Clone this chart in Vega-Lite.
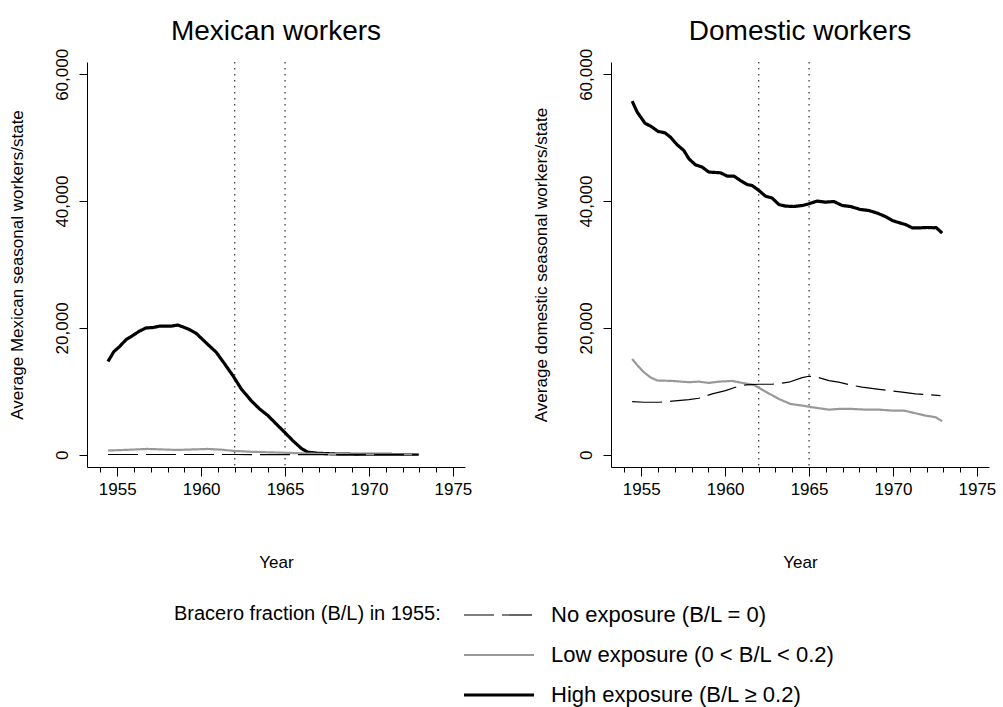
{
  "$schema": "https://vega.github.io/schema/vega-lite/v6.json",
  "padding": {"left": 8, "top": 18, "right": 5, "bottom": 5},
  "background": "white",
  "datasets": {
    "events": [{"year": 1962}, {"year": 1965}],
    "series": [
      {"panel": "Mexican", "exposure": "High", "year": 1954.45, "value": 14700},
      {"panel": "Mexican", "exposure": "High", "year": 1954.8, "value": 16250},
      {"panel": "Mexican", "exposure": "High", "year": 1955.14, "value": 17050},
      {"panel": "Mexican", "exposure": "High", "year": 1955.53, "value": 18150},
      {"panel": "Mexican", "exposure": "High", "year": 1955.93, "value": 18800},
      {"panel": "Mexican", "exposure": "High", "year": 1956.33, "value": 19500},
      {"panel": "Mexican", "exposure": "High", "year": 1956.73, "value": 20000},
      {"panel": "Mexican", "exposure": "High", "year": 1957.12, "value": 20050},
      {"panel": "Mexican", "exposure": "High", "year": 1957.52, "value": 20270},
      {"panel": "Mexican", "exposure": "High", "year": 1958.22, "value": 20270},
      {"panel": "Mexican", "exposure": "High", "year": 1958.61, "value": 20450},
      {"panel": "Mexican", "exposure": "High", "year": 1959.21, "value": 19850},
      {"panel": "Mexican", "exposure": "High", "year": 1959.7, "value": 19150},
      {"panel": "Mexican", "exposure": "High", "year": 1960.3, "value": 17630},
      {"panel": "Mexican", "exposure": "High", "year": 1960.9, "value": 16150},
      {"panel": "Mexican", "exposure": "High", "year": 1961.4, "value": 14320},
      {"panel": "Mexican", "exposure": "High", "year": 1961.89, "value": 12470},
      {"panel": "Mexican", "exposure": "High", "year": 1962.39, "value": 10370},
      {"panel": "Mexican", "exposure": "High", "year": 1962.98, "value": 8520},
      {"panel": "Mexican", "exposure": "High", "year": 1963.48, "value": 7210},
      {"panel": "Mexican", "exposure": "High", "year": 1963.98, "value": 6160},
      {"panel": "Mexican", "exposure": "High", "year": 1964.47, "value": 4850},
      {"panel": "Mexican", "exposure": "High", "year": 1964.97, "value": 3540},
      {"panel": "Mexican", "exposure": "High", "year": 1965.46, "value": 2210},
      {"panel": "Mexican", "exposure": "High", "year": 1965.96, "value": 1010},
      {"panel": "Mexican", "exposure": "High", "year": 1966.36, "value": 380},
      {"panel": "Mexican", "exposure": "High", "year": 1966.95, "value": 220},
      {"panel": "Mexican", "exposure": "High", "year": 1968.0, "value": 100},
      {"panel": "Mexican", "exposure": "High", "year": 1969.0, "value": 60},
      {"panel": "Mexican", "exposure": "High", "year": 1970.0, "value": 40},
      {"panel": "Mexican", "exposure": "High", "year": 1971.0, "value": 30},
      {"panel": "Mexican", "exposure": "High", "year": 1972.0, "value": 20},
      {"panel": "Mexican", "exposure": "High", "year": 1972.95, "value": 20},
      {"panel": "Mexican", "exposure": "Low", "year": 1954.45, "value": 650},
      {"panel": "Mexican", "exposure": "Low", "year": 1955.5, "value": 750},
      {"panel": "Mexican", "exposure": "Low", "year": 1956.8, "value": 900},
      {"panel": "Mexican", "exposure": "Low", "year": 1957.7, "value": 820},
      {"panel": "Mexican", "exposure": "Low", "year": 1958.6, "value": 740},
      {"panel": "Mexican", "exposure": "Low", "year": 1959.5, "value": 820},
      {"panel": "Mexican", "exposure": "Low", "year": 1960.4, "value": 900},
      {"panel": "Mexican", "exposure": "Low", "year": 1961.2, "value": 780},
      {"panel": "Mexican", "exposure": "Low", "year": 1962.0, "value": 580},
      {"panel": "Mexican", "exposure": "Low", "year": 1963.0, "value": 450},
      {"panel": "Mexican", "exposure": "Low", "year": 1964.0, "value": 370},
      {"panel": "Mexican", "exposure": "Low", "year": 1965.0, "value": 300},
      {"panel": "Mexican", "exposure": "Low", "year": 1966.0, "value": 200},
      {"panel": "Mexican", "exposure": "Low", "year": 1966.5, "value": 160},
      {"panel": "Mexican", "exposure": "Low", "year": 1967.5, "value": 100},
      {"panel": "Mexican", "exposure": "Low", "year": 1968.5, "value": 70},
      {"panel": "Mexican", "exposure": "Low", "year": 1970.0, "value": 50},
      {"panel": "Mexican", "exposure": "Low", "year": 1972.95, "value": 40},
      {"panel": "Mexican", "exposure": "No", "year": 1954.45, "value": 20},
      {"panel": "Mexican", "exposure": "No", "year": 1958.0, "value": 20},
      {"panel": "Mexican", "exposure": "No", "year": 1962.0, "value": 20},
      {"panel": "Mexican", "exposure": "No", "year": 1966.0, "value": 10},
      {"panel": "Mexican", "exposure": "No", "year": 1972.95, "value": 0},
      {"panel": "Domestic", "exposure": "High", "year": 1954.46, "value": 55790},
      {"panel": "Domestic", "exposure": "High", "year": 1954.76, "value": 54050},
      {"panel": "Domestic", "exposure": "High", "year": 1955.22, "value": 52310},
      {"panel": "Domestic", "exposure": "High", "year": 1955.65, "value": 51680},
      {"panel": "Domestic", "exposure": "High", "year": 1956.01, "value": 50990},
      {"panel": "Domestic", "exposure": "High", "year": 1956.41, "value": 50780},
      {"panel": "Domestic", "exposure": "High", "year": 1956.74, "value": 50100},
      {"panel": "Domestic", "exposure": "High", "year": 1957.14, "value": 48890},
      {"panel": "Domestic", "exposure": "High", "year": 1957.54, "value": 47990},
      {"panel": "Domestic", "exposure": "High", "year": 1957.84, "value": 46680},
      {"panel": "Domestic", "exposure": "High", "year": 1958.23, "value": 45730},
      {"panel": "Domestic", "exposure": "High", "year": 1958.63, "value": 45370},
      {"panel": "Domestic", "exposure": "High", "year": 1959.03, "value": 44580},
      {"panel": "Domestic", "exposure": "High", "year": 1959.72, "value": 44470},
      {"panel": "Domestic", "exposure": "High", "year": 1960.12, "value": 43950},
      {"panel": "Domestic", "exposure": "High", "year": 1960.52, "value": 43950},
      {"panel": "Domestic", "exposure": "High", "year": 1960.91, "value": 43250},
      {"panel": "Domestic", "exposure": "High", "year": 1961.31, "value": 42620},
      {"panel": "Domestic", "exposure": "High", "year": 1961.61, "value": 42460},
      {"panel": "Domestic", "exposure": "High", "year": 1962.01, "value": 41680},
      {"panel": "Domestic", "exposure": "High", "year": 1962.4, "value": 40790},
      {"panel": "Domestic", "exposure": "High", "year": 1962.8, "value": 40480},
      {"panel": "Domestic", "exposure": "High", "year": 1963.2, "value": 39470},
      {"panel": "Domestic", "exposure": "High", "year": 1963.59, "value": 39210},
      {"panel": "Domestic", "exposure": "High", "year": 1964.09, "value": 39150},
      {"panel": "Domestic", "exposure": "High", "year": 1964.59, "value": 39310},
      {"panel": "Domestic", "exposure": "High", "year": 1964.99, "value": 39580},
      {"panel": "Domestic", "exposure": "High", "year": 1965.48, "value": 40000},
      {"panel": "Domestic", "exposure": "High", "year": 1965.98, "value": 39840},
      {"panel": "Domestic", "exposure": "High", "year": 1966.48, "value": 39940},
      {"panel": "Domestic", "exposure": "High", "year": 1966.97, "value": 39310},
      {"panel": "Domestic", "exposure": "High", "year": 1967.47, "value": 39150},
      {"panel": "Domestic", "exposure": "High", "year": 1968.06, "value": 38680},
      {"panel": "Domestic", "exposure": "High", "year": 1968.56, "value": 38520},
      {"panel": "Domestic", "exposure": "High", "year": 1969.06, "value": 38110},
      {"panel": "Domestic", "exposure": "High", "year": 1969.55, "value": 37570},
      {"panel": "Domestic", "exposure": "High", "year": 1969.95, "value": 36940},
      {"panel": "Domestic", "exposure": "High", "year": 1970.45, "value": 36530},
      {"panel": "Domestic", "exposure": "High", "year": 1970.74, "value": 36310},
      {"panel": "Domestic", "exposure": "High", "year": 1971.14, "value": 35790},
      {"panel": "Domestic", "exposure": "High", "year": 1971.64, "value": 35790},
      {"panel": "Domestic", "exposure": "High", "year": 1972.04, "value": 35840},
      {"panel": "Domestic", "exposure": "High", "year": 1972.43, "value": 35790},
      {"panel": "Domestic", "exposure": "High", "year": 1972.57, "value": 35840},
      {"panel": "Domestic", "exposure": "High", "year": 1972.93, "value": 34950},
      {"panel": "Domestic", "exposure": "Low", "year": 1954.46, "value": 15100},
      {"panel": "Domestic", "exposure": "Low", "year": 1954.8, "value": 14000},
      {"panel": "Domestic", "exposure": "Low", "year": 1955.16, "value": 13000},
      {"panel": "Domestic", "exposure": "Low", "year": 1955.55, "value": 12200},
      {"panel": "Domestic", "exposure": "Low", "year": 1955.95, "value": 11700},
      {"panel": "Domestic", "exposure": "Low", "year": 1956.84, "value": 11630},
      {"panel": "Domestic", "exposure": "Low", "year": 1957.84, "value": 11430},
      {"panel": "Domestic", "exposure": "Low", "year": 1958.43, "value": 11520},
      {"panel": "Domestic", "exposure": "Low", "year": 1959.03, "value": 11320},
      {"panel": "Domestic", "exposure": "Low", "year": 1959.62, "value": 11520},
      {"panel": "Domestic", "exposure": "Low", "year": 1960.42, "value": 11630},
      {"panel": "Domestic", "exposure": "Low", "year": 1961.01, "value": 11320},
      {"panel": "Domestic", "exposure": "Low", "year": 1961.71, "value": 11000},
      {"panel": "Domestic", "exposure": "Low", "year": 1962.4, "value": 9950},
      {"panel": "Domestic", "exposure": "Low", "year": 1963.2, "value": 8790},
      {"panel": "Domestic", "exposure": "Low", "year": 1963.89, "value": 8000},
      {"panel": "Domestic", "exposure": "Low", "year": 1964.59, "value": 7740},
      {"panel": "Domestic", "exposure": "Low", "year": 1965.18, "value": 7480},
      {"panel": "Domestic", "exposure": "Low", "year": 1966.18, "value": 7100},
      {"panel": "Domestic", "exposure": "Low", "year": 1966.77, "value": 7210},
      {"panel": "Domestic", "exposure": "Low", "year": 1967.57, "value": 7210},
      {"panel": "Domestic", "exposure": "Low", "year": 1968.36, "value": 7100},
      {"panel": "Domestic", "exposure": "Low", "year": 1969.16, "value": 7100},
      {"panel": "Domestic", "exposure": "Low", "year": 1969.95, "value": 6950},
      {"panel": "Domestic", "exposure": "Low", "year": 1970.65, "value": 6950},
      {"panel": "Domestic", "exposure": "Low", "year": 1971.34, "value": 6530},
      {"panel": "Domestic", "exposure": "Low", "year": 1971.94, "value": 6160},
      {"panel": "Domestic", "exposure": "Low", "year": 1972.54, "value": 5900},
      {"panel": "Domestic", "exposure": "Low", "year": 1972.93, "value": 5270},
      {"panel": "Domestic", "exposure": "No", "year": 1954.46, "value": 8370},
      {"panel": "Domestic", "exposure": "No", "year": 1955.16, "value": 8270},
      {"panel": "Domestic", "exposure": "No", "year": 1956.05, "value": 8270},
      {"panel": "Domestic", "exposure": "No", "year": 1956.84, "value": 8430},
      {"panel": "Domestic", "exposure": "No", "year": 1957.84, "value": 8680},
      {"panel": "Domestic", "exposure": "No", "year": 1958.43, "value": 8900},
      {"panel": "Domestic", "exposure": "No", "year": 1959.23, "value": 9580},
      {"panel": "Domestic", "exposure": "No", "year": 1960.02, "value": 10100},
      {"panel": "Domestic", "exposure": "No", "year": 1960.72, "value": 10730},
      {"panel": "Domestic", "exposure": "No", "year": 1961.22, "value": 11000},
      {"panel": "Domestic", "exposure": "No", "year": 1962.01, "value": 11110},
      {"panel": "Domestic", "exposure": "No", "year": 1962.8, "value": 11110},
      {"panel": "Domestic", "exposure": "No", "year": 1963.79, "value": 11430},
      {"panel": "Domestic", "exposure": "No", "year": 1964.59, "value": 12160},
      {"panel": "Domestic", "exposure": "No", "year": 1964.99, "value": 12370},
      {"panel": "Domestic", "exposure": "No", "year": 1965.38, "value": 12310},
      {"panel": "Domestic", "exposure": "No", "year": 1966.18, "value": 11680},
      {"panel": "Domestic", "exposure": "No", "year": 1966.77, "value": 11430},
      {"panel": "Domestic", "exposure": "No", "year": 1967.37, "value": 11050},
      {"panel": "Domestic", "exposure": "No", "year": 1968.16, "value": 10640},
      {"panel": "Domestic", "exposure": "No", "year": 1968.95, "value": 10370},
      {"panel": "Domestic", "exposure": "No", "year": 1969.75, "value": 10100},
      {"panel": "Domestic", "exposure": "No", "year": 1970.55, "value": 9850},
      {"panel": "Domestic", "exposure": "No", "year": 1971.34, "value": 9580},
      {"panel": "Domestic", "exposure": "No", "year": 1972.14, "value": 9470},
      {"panel": "Domestic", "exposure": "No", "year": 1972.83, "value": 9310}
    ]
  },
  "config": {
    "font": "Liberation Sans",
    "view": {"stroke": null},
    "axis": {
      "domainColor": "black", "tickColor": "black", "labelColor": "black", "titleColor": "black",
      "labelFont": "Liberation Sans", "titleFont": "Liberation Sans",
      "labelFontSize": 17, "titleFontSize": 17, "titleFontWeight": "normal",
      "grid": false, "domainWidth": 1, "tickWidth": 1
    },
    "title": {"fontSize": 28, "fontWeight": "normal", "font": "Liberation Sans", "color": "black", "offset": 2},
    "legend": {
      "orient": "none", "legendX": 87, "legendY": 542, "direction": "vertical", "titleOrient": "left",
      "titleAnchor": "start",
      "labelFont": "Liberation Sans", "titleFont": "Liberation Sans",
      "labelFontSize": 22, "titleFontSize": 20, "titleFontWeight": "normal",
      "labelColor": "black", "titleColor": "black",
      "labelLimit": 600, "titleLimit": 600,
      "symbolType": "M-1,0H13", "symbolSize": 100,
      "labelOffset": 71, "rowPadding": 18, "titlePadding": 17,
      "symbolFillColor": "transparent"
    }
  },
  "resolve": {"scale": {"color": "shared", "strokeDash": "shared", "strokeWidth": "shared"}, "legend": {"color": "shared", "strokeDash": "shared", "strokeWidth": "shared"}},
  "spacing": 60,
  "hconcat": [
    {
      "width": 378, "height": 405,
      "title": "Mexican workers",
      "resolve": {"axis": {"x": "independent"}},
      "layer": [
        {
          "data": {"name": "events"},
          "mark": {"type": "rule", "strokeDash": [1.5, 4.5], "color": "#333333", "strokeWidth": 1.2},
          "encoding": {
            "x": {"field": "year", "type": "quantitative",
              "scale": {"domain": [1953.2, 1975.72], "nice": false, "zero": false},
              "axis": {"orient": "bottom", "values": [1954,1955,1956,1957,1958,1959,1960,1961,1962,1963,1964,1965,1966,1967,1968,1969,1970,1971,1972,1973,1974,1975], "labels": false, "domain": false, "tickSize": 5, "title": null}}
          }
        },
        {
          "data": {"name": "series"},
          "transform": [{"filter": "datum.panel === 'Mexican'"}],
          "mark": {"type": "line", "strokeJoin": "round"},
          "encoding": {
            "x": {"field": "year", "type": "quantitative",
              "scale": {"domain": [1953.2, 1975.72], "nice": false, "zero": false},
              "axis": {"orient": "bottom", "values": [1955, 1960, 1965, 1970, 1975], "format": "d", "tickSize": 9, "labelPadding": 5, "title": "Year", "titlePadding": 57}},
            "y": {"field": "value", "type": "quantitative",
              "scale": {"domain": [-1950, 61950], "nice": false, "zero": false},
              "axis": {"values": [0, 20000, 40000, 60000], "format": ",.0f", "labelAngle": -90, "tickSize": 8, "labelPadding": 8, "title": "Average Mexican seasonal workers/state", "titlePadding": 27}},
            "color": {"field": "exposure", "type": "nominal",
              "scale": {"domain": ["No", "Low", "High"], "range": ["#000000", "#999999", "#000000"]},
              "legend": {"title": "Bracero fraction (B/L) in 1955:", "labelExpr": "datum.value === 'No' ? 'No exposure (B/L = 0)' : datum.value === 'Low' ? 'Low exposure (0 < B/L < 0.2)' : 'High exposure (B/L ≥ 0.2)'",
                "encode": {"symbols": {"update": {"strokeDash": {"signal": "datum.value === 'No' ? [20, 6] : [1, 0]"}}}}}},
            "strokeDash": {"field": "exposure", "type": "nominal",
              "scale": {"domain": ["No", "Low", "High"], "range": [[30, 8], [1, 0], [1, 0]]},
              "legend": {"title": "Bracero fraction (B/L) in 1955:", "labelExpr": "datum.value === 'No' ? 'No exposure (B/L = 0)' : datum.value === 'Low' ? 'Low exposure (0 < B/L < 0.2)' : 'High exposure (B/L ≥ 0.2)'"}},
            "strokeWidth": {"field": "exposure", "type": "nominal",
              "scale": {"domain": ["No", "Low", "High"], "range": [1.2, 3.2, 2.8]},
              "legend": {"title": "Bracero fraction (B/L) in 1955:", "labelExpr": "datum.value === 'No' ? 'No exposure (B/L = 0)' : datum.value === 'Low' ? 'Low exposure (0 < B/L < 0.2)' : 'High exposure (B/L ≥ 0.2)'"}}
          }
        }
      ]
    },
    {
      "width": 378, "height": 405,
      "title": "Domestic workers",
      "resolve": {"axis": {"x": "independent"}},
      "layer": [
        {
          "data": {"name": "events"},
          "mark": {"type": "rule", "strokeDash": [1.5, 4.5], "color": "#333333", "strokeWidth": 1.2},
          "encoding": {
            "x": {"field": "year", "type": "quantitative",
              "scale": {"domain": [1953.2, 1975.72], "nice": false, "zero": false},
              "axis": {"orient": "bottom", "values": [1954,1955,1956,1957,1958,1959,1960,1961,1962,1963,1964,1965,1966,1967,1968,1969,1970,1971,1972,1973,1974,1975], "labels": false, "domain": false, "tickSize": 5, "title": null}}
          }
        },
        {
          "data": {"name": "series"},
          "transform": [{"filter": "datum.panel === 'Domestic'"}],
          "mark": {"type": "line", "strokeJoin": "round"},
          "encoding": {
            "x": {"field": "year", "type": "quantitative",
              "scale": {"domain": [1953.2, 1975.72], "nice": false, "zero": false},
              "axis": {"orient": "bottom", "values": [1955, 1960, 1965, 1970, 1975], "format": "d", "tickSize": 9, "labelPadding": 5, "title": "Year", "titlePadding": 57}},
            "y": {"field": "value", "type": "quantitative",
              "scale": {"domain": [-1950, 61950], "nice": false, "zero": false},
              "axis": {"values": [0, 20000, 40000, 60000], "format": ",.0f", "labelAngle": -90, "tickSize": 8, "labelPadding": 8, "title": "Average domestic seasonal workers/state", "titlePadding": 27}},
            "color": {"field": "exposure", "type": "nominal",
              "scale": {"domain": ["No", "Low", "High"], "range": ["#000000", "#999999", "#000000"]},
              "legend": {"title": "Bracero fraction (B/L) in 1955:", "labelExpr": "datum.value === 'No' ? 'No exposure (B/L = 0)' : datum.value === 'Low' ? 'Low exposure (0 < B/L < 0.2)' : 'High exposure (B/L ≥ 0.2)'",
                "encode": {"symbols": {"update": {"strokeDash": {"signal": "datum.value === 'No' ? [20, 6] : [1, 0]"}}}}}},
            "strokeDash": {"field": "exposure", "type": "nominal",
              "scale": {"domain": ["No", "Low", "High"], "range": [[30, 8], [1, 0], [1, 0]]},
              "legend": {"title": "Bracero fraction (B/L) in 1955:", "labelExpr": "datum.value === 'No' ? 'No exposure (B/L = 0)' : datum.value === 'Low' ? 'Low exposure (0 < B/L < 0.2)' : 'High exposure (B/L ≥ 0.2)'"}},
            "strokeWidth": {"field": "exposure", "type": "nominal",
              "scale": {"domain": ["No", "Low", "High"], "range": [1.2, 3.2, 2.8]},
              "legend": {"title": "Bracero fraction (B/L) in 1955:", "labelExpr": "datum.value === 'No' ? 'No exposure (B/L = 0)' : datum.value === 'Low' ? 'Low exposure (0 < B/L < 0.2)' : 'High exposure (B/L ≥ 0.2)'"}}
          }
        }
      ]
    }
  ]
}
